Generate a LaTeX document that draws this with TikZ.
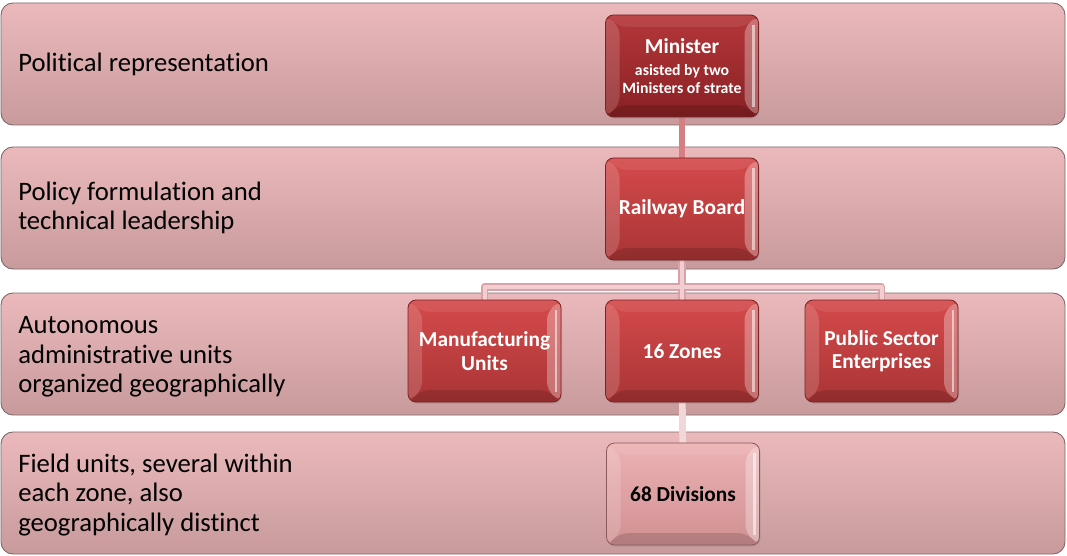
\documentclass[tikz,border=0pt]{standalone}
\usepackage{fontspec}
\setmainfont{Carlito}[Ligatures=NoCommon]
\usetikzlibrary{calc,shadows}

\pgfdeclarelayer{tiers}
\pgfdeclarelayer{links}
\pgfsetlayers{tiers,links,main}

\definecolor{bandtop}{HTML}{EBB9BB}
\definecolor{bandbot}{HTML}{C89A9C}
\definecolor{bandedge}{HTML}{7E6A6B}
\definecolor{redtop}{HTML}{D54A4B}
\definecolor{redbot}{HTML}{A93435}
\definecolor{rededge}{HTML}{7A2224}
\definecolor{mintop}{HTML}{B5373A}
\definecolor{minbot}{HTML}{882024}
\definecolor{divtop}{HTML}{EDB2B4}
\definecolor{divbot}{HTML}{D09092}
\definecolor{divedge}{HTML}{8A5A5C}
\definecolor{linkdark}{HTML}{D57E84}
\definecolor{linkout}{HTML}{D9A2A6}
\definecolor{linkin}{HTML}{F0CED1}
\definecolor{linkpale}{HTML}{F2D6D8}

\tikzset{
  band/.style={draw=bandedge, line width=0.7pt, rounded corners=9pt,
    top color=bandtop, bottom color=bandbot,
    minimum width=798pt, minimum height=91.5pt, inner sep=0pt},
  bandlabel/.style={anchor=west, align=left, inner sep=0pt,
    font=\fontsize{20}{22}\selectfont, text=black},
  bevel/.style={path picture={
    \coordinate (pnw) at (path picture bounding box.north west);
    \coordinate (pne) at (path picture bounding box.north east);
    \coordinate (psw) at (path picture bounding box.south west);
    \coordinate (pse) at (path picture bounding box.south east);
    % left face
    \fill[white, fill opacity=0.16] (pnw) -- ($(pnw)+(14,12)$) -- ($(psw)+(14,-12)$) -- (psw) -- cycle;
    % right face, catching the light
    \fill[white, fill opacity=0.30] (pne) -- ($(pne)+(-14,12)$) -- ($(pse)+(-14,-12)$) -- (pse) -- cycle;
    \draw[white, opacity=0.55, line width=2.2pt] ($(pne)+(-5,10)$) -- ($(pse)+(-5,-10)$);
    % top face
    \fill[white, fill opacity=0.08] (pnw) -- (pne) -- ($(pne)+(-14,12)$) -- ($(pnw)+(14,12)$) -- cycle;
    % bottom face
    \fill[black, fill opacity=0.14] (psw) -- (pse) -- ($(pse)+(-14,-12)$) -- ($(psw)+(14,-12)$) -- cycle;
  }},
  unitbox/.style={rectangle, rounded corners=6pt,
    minimum width=114.75pt, minimum height=76.5pt, inner sep=2pt,
    align=center, line width=0.6pt, bevel,
    drop shadow={shadow xshift=0.8pt, shadow yshift=-1.2pt, opacity=0.3},
    font=\bfseries\fontsize{16}{17.5}\selectfont},
  redbox/.style={unitbox, top color=redtop, bottom color=redbot, draw=rededge, text=white},
  minbox/.style={unitbox, top color=mintop, bottom color=minbot, draw=rededge, text=white},
  divbox/.style={unitbox, top color=divtop, bottom color=divbot, draw=divedge, text=black},
  linkmain/.style={draw=linkdark, line width=5pt},
  linkouter/.style={draw=linkout, line width=5.5pt, line join=round},
  linkinner/.style={draw=linkin, line width=3pt, line join=round},
  linkfield/.style={draw=linkpale, line width=5pt},
}

\begin{document}
\begin{tikzpicture}[x=0.75pt, y=-0.75pt]
\useasboundingbox (0,0) rectangle (1067,556);

% horizontal tiers with their captions
\begin{pgfonlayer}{tiers}
\node[band] (b1) at (533,64)  {};
\node[band] (b2) at (533,208) {};
\node[band] (b3) at (533,354) {};
\node[band] (b4) at (533,493) {};
\end{pgfonlayer}

\node[bandlabel] (l1) at (18,64)  {Political representation};
\node[bandlabel] (l2) at (18,208) {Policy formulation and\\technical leadership};
\node[bandlabel] (l3) at (18,357) {Autonomous\\administrative units\\organized geographically};
\node[bandlabel] (l4) at (18,495) {Field units, several within\\each zone, also\\geographically distinct};

% organisation units
\node[minbox] (min) at (682,66)
  {Minister\\[-1pt]{\fontsize{11.8}{13}\selectfont asisted by two}\\[-4pt]{\fontsize{11.8}{13}\selectfont Ministers of strate}};
\node[redbox] (rb)    at (682,209)   {Railway Board};
\node[redbox] (mu)    at (484.5,351) {Manufacturing\\Units};
\node[redbox] (zones) at (682,351)   {16 Zones};
\node[redbox] (ps)    at (881.5,351) {Public Sector\\Enterprises};
\node[divbox] (div)   at (683,494)   {68 Divisions};

\coordinate (bar) at (682,287);

% connectors, kept beneath the boxes
\begin{pgfonlayer}{links}
\draw[linkmain] (min) -- (rb);
\draw[linkouter] (mu.north) |- (bar) -| (ps.north);
\draw[linkouter] (rb) -- (zones);
\draw[linkinner] (mu.north) |- (bar) -| (ps.north);
\draw[linkinner] (rb) -- (zones);
\draw[linkfield] (zones) -- (div);
\end{pgfonlayer}
\end{tikzpicture}
\end{document}
